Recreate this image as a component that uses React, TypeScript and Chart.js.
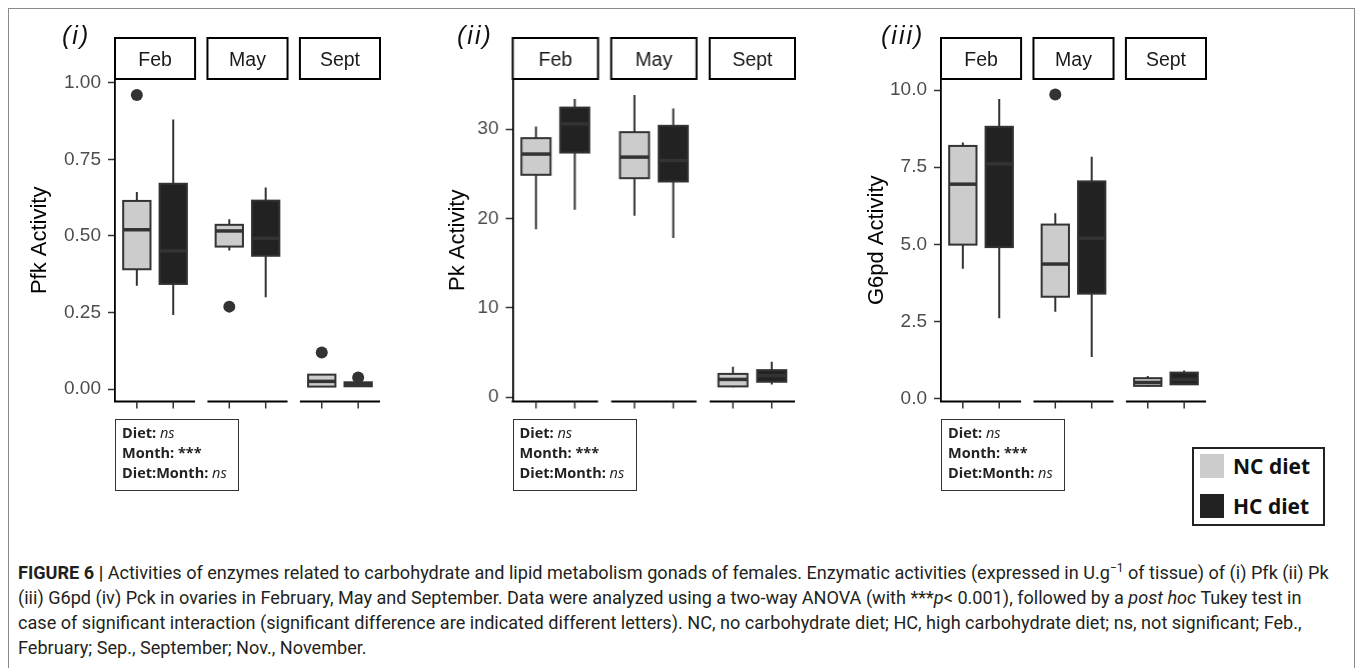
import {
  Chart,
  LinearScale,
  LineElement,
  PointElement,
  ScatterController,
  type ChartConfiguration,
  type Plugin
} from "chart.js";
import { useEffect, useRef } from "react";

Chart.register(LinearScale, LineElement, PointElement, ScatterController);

const months = ["Feb", "May", "Sept"];
const diets = ["NC diet", "HC diet"];
const dietFills = ["#cccccc", "#222222"];

// one row per month: [min, q1, median, q3, max]
const pfkNC = [
  [0.337, 0.391, 0.52, 0.614, 0.643],
  [0.452, 0.465, 0.516, 0.536, 0.554],
  [0.008, 0.008, 0.025, 0.047, 0.047]
];
const pfkHC = [
  [0.242, 0.343, 0.451, 0.67, 0.88],
  [0.3, 0.435, 0.492, 0.615, 0.658],
  [0.009, 0.009, 0.015, 0.022, 0.022]
];
const pfkOutliersNC = [[0.96], [0.269], [0.119]];
const pfkOutliersHC = [[], [], [0.038]];
const pfkTicks = [0, 0.25, 0.5, 0.75, 1];

const pkNC = [
  [18.8, 24.88, 27.2, 28.98, 30.28],
  [20.3, 24.5, 26.86, 29.65, 33.8],
  [1.1, 1.2, 1.98, 2.6, 3.4]
];
const pkHC = [
  [20.97, 27.37, 30.58, 32.4, 33.37],
  [17.8, 24.13, 26.48, 30.36, 32.3],
  [1.42, 1.72, 2.4, 3.02, 3.95]
];
const pkOutliersNC = [[], [], []];
const pkOutliersHC = [[], [], []];
const pkTicks = [0, 10, 20, 30];

const g6pdNC = [
  [4.21, 4.99, 6.95, 8.19, 8.3],
  [2.81, 3.3, 4.36, 5.64, 6.01],
  [0.38, 0.41, 0.52, 0.66, 0.73]
];
const g6pdHC = [
  [2.6, 4.91, 7.61, 8.81, 9.71],
  [1.35, 3.4, 5.2, 7.04, 7.84],
  [0.45, 0.46, 0.62, 0.84, 0.91]
];
const g6pdOutliersNC = [[], [9.86], []];
const g6pdOutliersHC = [[], [], []];
const g6pdTicks = [0, 2.5, 5, 7.5, 10];

// facet layout in x units (ggplot style: two discrete slots per facet)
const FACET = 2.2;
const GAP = 0.34;
const SLOT = [0.6, 1.6];
const HALF_BOX = 0.375;
const facetStart = (m: number) => m * (FACET + GAP);

const FONT = "'Liberation Sans', Arial, sans-serif";

type PanelSpec = {
  tag: string;
  title: string;
  nc: number[][];
  hc: number[][];
  outNC: number[][];
  outHC: number[][];
  ticks: number[];
  digits: number;
  yMin: number;
  yMax: number;
  left: number;
  plotLeft: number;
  plotRight: number;
  titleX: number;
  tagX: number;
};

const panels: PanelSpec[] = [
  {
    tag: "(i)",
    title: "Pfk Activity",
    nc: pfkNC,
    hc: pfkHC,
    outNC: pfkOutliersNC,
    outHC: pfkOutliersHC,
    ticks: pfkTicks,
    digits: 2,
    yMin: -0.041,
    yMax: 1.012,
    left: 20,
    plotLeft: 115,
    plotRight: 380,
    titleX: 40,
    tagX: 62
  },
  {
    tag: "(ii)",
    title: "Pk Activity",
    nc: pkNC,
    hc: pkHC,
    outNC: pkOutliersNC,
    outHC: pkOutliersHC,
    ticks: pkTicks,
    digits: 0,
    yMin: -0.5,
    yMax: 35.6,
    left: 430,
    plotLeft: 512.5,
    plotRight: 794.5,
    titleX: 458,
    tagX: 457
  },
  {
    tag: "(iii)",
    title: "G6pd Activity",
    nc: g6pdNC,
    hc: g6pdHC,
    outNC: g6pdOutliersNC,
    outHC: g6pdOutliersHC,
    ticks: g6pdTicks,
    digits: 1,
    yMin: -0.1,
    yMax: 10.36,
    left: 850,
    plotLeft: 941,
    plotRight: 1206,
    titleX: 877,
    tagX: 881
  }
];

const CANVAS_TOP = 20;
const CANVAS_HEIGHT = 400;
const PAD_TOP = 59;
const PAD_BOTTOM = 18;
const PAD_RIGHT = 10;
const STRIP_HEIGHT = 41;

function facetPlugin(spec: PanelSpec): Plugin<"scatter"> {
  return {
    id: "facetBoxes",
    beforeDatasetsDraw(chart) {
      const { ctx } = chart;
      const x = chart.scales.x;
      const y = chart.scales.y;
      ctx.save();
      [spec.nc, spec.hc].forEach((series, d) => {
        series.forEach(([lo, q1, med, q3, hi], m) => {
          const pos = facetStart(m) + SLOT[d];
          const cx = x.getPixelForValue(pos);
          const left = x.getPixelForValue(pos - HALF_BOX);
          const right = x.getPixelForValue(pos + HALF_BOX);
          const top = y.getPixelForValue(q3);
          const bottom = y.getPixelForValue(q1);

          ctx.strokeStyle = "#333333";
          ctx.lineWidth = 2;
          ctx.beginPath();
          ctx.moveTo(cx, y.getPixelForValue(hi));
          ctx.lineTo(cx, top);
          ctx.moveTo(cx, bottom);
          ctx.lineTo(cx, y.getPixelForValue(lo));
          ctx.stroke();

          ctx.fillStyle = dietFills[d];
          ctx.fillRect(left, top, right - left, bottom - top);
          ctx.strokeRect(left, top, right - left, bottom - top);

          const my = y.getPixelForValue(med);
          ctx.lineWidth = 3.5;
          ctx.beginPath();
          ctx.moveTo(left, my);
          ctx.lineTo(right, my);
          ctx.stroke();
        });
      });
      ctx.restore();
    },
    afterDraw(chart) {
      const { ctx, chartArea } = chart;
      const x = chart.scales.x;
      ctx.save();
      months.forEach((month, m) => {
        const x0 = x.getPixelForValue(facetStart(m));
        const x1 = x.getPixelForValue(facetStart(m) + FACET);

        // strip
        ctx.fillStyle = "#ffffff";
        ctx.fillRect(x0, chartArea.top - STRIP_HEIGHT, x1 - x0, STRIP_HEIGHT);
        ctx.strokeStyle = "#000000";
        ctx.lineWidth = 2;
        ctx.strokeRect(x0, chartArea.top - STRIP_HEIGHT, x1 - x0, STRIP_HEIGHT);
        ctx.fillStyle = "#1a1a1a";
        ctx.font = `19.5px ${FONT}`;
        ctx.textAlign = "center";
        ctx.textBaseline = "middle";
        ctx.fillText(month, (x0 + x1) / 2, chartArea.top - STRIP_HEIGHT / 2 + 2);

        // broken bottom axis
        ctx.strokeStyle = "#000000";
        ctx.lineWidth = 2;
        ctx.beginPath();
        ctx.moveTo(m === 0 ? x0 - 1 : x0, chartArea.bottom);
        ctx.lineTo(x1, chartArea.bottom);
        ctx.stroke();

        ctx.strokeStyle = "#333333";
        ctx.lineWidth = 1.5;
        ctx.beginPath();
        SLOT.forEach((slot) => {
          const tx = x.getPixelForValue(facetStart(m) + slot);
          ctx.moveTo(tx, chartArea.bottom);
          ctx.lineTo(tx, chartArea.bottom + 7);
        });
        ctx.stroke();
      });
      ctx.restore();
    }
  };
}

function outlierPoints(out: number[][], d: number) {
  return out.flatMap((vals, m) => vals.map((v) => ({ x: facetStart(m) + SLOT[d], y: v })));
}

function panelConfig(spec: PanelSpec): ChartConfiguration<"scatter"> {
  const padLeft = spec.titleX - 13.2 - spec.left;
  const axisWidth = spec.plotLeft - spec.left - padLeft;
  return {
    type: "scatter",
    data: {
      datasets: [spec.outNC, spec.outHC].map((out, d) => ({
        label: diets[d],
        data: outlierPoints(out, d),
        pointRadius: 6,
        pointBackgroundColor: "#333333",
        pointBorderWidth: 0
      }))
    },
    options: {
      animation: false,
      responsive: false,
      events: [],
      layout: {
        autoPadding: false,
        padding: { top: PAD_TOP, bottom: PAD_BOTTOM, left: padLeft, right: PAD_RIGHT }
      },
      plugins: {
        legend: { display: false },
        tooltip: { enabled: false }
      },
      scales: {
        x: {
          type: "linear",
          display: false,
          min: 0,
          max: 3 * FACET + 2 * GAP
        },
        y: {
          type: "linear",
          position: "left",
          min: spec.yMin,
          max: spec.yMax,
          afterBuildTicks: (scale) => {
            scale.ticks = spec.ticks.map((value) => ({ value }));
          },
          afterFit: (scale) => {
            scale.width = axisWidth;
          },
          grid: {
            drawOnChartArea: false,
            drawTicks: true,
            tickLength: 7,
            tickWidth: 1.5,
            tickColor: "#333333",
            color: "#333333"
          },
          border: { display: true, color: "#000000", width: 1.8 },
          ticks: {
            color: "#4d4d4d",
            padding: 7,
            font: { family: FONT, size: 19 },
            callback: (value) => Number(value).toFixed(spec.digits)
          },
          title: {
            display: true,
            text: spec.title,
            color: "#000000",
            padding: 0,
            font: { family: FONT, size: 22 }
          }
        }
      }
    },
    plugins: [facetPlugin(spec)]
  };
}

const statLabel: React.CSSProperties = { fontWeight: 700 };

function StatsBox({ left }: { left: number }) {
  return (
    <div
      style={{
        position: "absolute",
        left,
        top: 419,
        width: 124,
        height: 72,
        boxSizing: "border-box",
        border: "1.5px solid #333",
        padding: "3px 0 0 6px",
        fontFamily: "'Open Sans', sans-serif",
        fontSize: 14.5,
        lineHeight: "20px",
        color: "#222",
        whiteSpace: "nowrap"
      }}
    >
      <div>
        <span style={statLabel}>Diet: </span>
        <i>ns</i>
      </div>
      <div>
        <span style={statLabel}>Month: ***</span>
      </div>
      <div>
        <span style={statLabel}>Diet:Month: </span>
        <i>ns</i>
      </div>
    </div>
  );
}

function Panel({ spec }: { spec: PanelSpec }) {
  const canvasRef = useRef<HTMLCanvasElement | null>(null);
  const width = spec.plotRight - spec.left + PAD_RIGHT;

  useEffect(() => {
    const canvas = canvasRef.current;
    if (!canvas) {
      return;
    }
    const chart = new Chart(canvas, panelConfig(spec));
    return () => chart.destroy();
  }, [spec]);

  return (
    <>
      <canvas
        ref={canvasRef}
        width={width}
        height={CANVAS_HEIGHT}
        style={{ position: "absolute", left: spec.left, top: CANVAS_TOP, width, height: CANVAS_HEIGHT }}
      />
      <div
        style={{
          position: "absolute",
          left: spec.tagX,
          top: 22,
          fontFamily: FONT,
          fontStyle: "italic",
          fontSize: 25,
          lineHeight: "26px",
          letterSpacing: 2,
          color: "#111"
        }}
      >
        {spec.tag}
      </div>
      <StatsBox left={spec.plotLeft} />
    </>
  );
}

function Legend() {
  const row = (d: number, top: number) => (
    <div style={{ position: "absolute", left: 6, top, display: "flex", alignItems: "center" }}>
      <div style={{ width: 24, height: 24, background: dietFills[d] }} />
      <span style={{ marginLeft: 9, fontSize: 21, fontWeight: 700, lineHeight: "24px" }}>{diets[d]}</span>
    </div>
  );
  return (
    <div
      style={{
        position: "absolute",
        left: 1192,
        top: 447,
        width: 133,
        height: 79,
        boxSizing: "border-box",
        border: "2px solid #222",
        fontFamily: "'Open Sans', sans-serif",
        color: "#111"
      }}
    >
      {row(0, 5)}
      {row(1, 45)}
    </div>
  );
}

const captionLine: React.CSSProperties = {
  position: "absolute",
  left: 18,
  whiteSpace: "nowrap",
  fontFamily: "Roboto, sans-serif",
  fontSize: 18.1,
  lineHeight: "25px",
  color: "#231f20"
};

function Caption() {
  return (
    <>
      <div style={{ ...captionLine, top: 559.5 }}>
        <b>FIGURE 6 |</b> Activities of enzymes related to carbohydrate and lipid metabolism gonads of females.
        Enzymatic activities (expressed in U.g<sup style={{ fontSize: 12, lineHeight: 0 }}>−1</sup> of tissue) of (i)
        Pfk (ii) Pk
      </div>
      <div style={{ ...captionLine, top: 584.5 }}>
        (iii) G6pd (iv) Pck in ovaries in February, May and September. Data were analyzed using a two-way ANOVA (with
        ***<i>p</i>&lt; 0.001), followed by a <i>post hoc</i> Tukey test in
      </div>
      <div style={{ ...captionLine, top: 609.5 }}>
        case of significant interaction (significant difference are indicated different letters). NC, no carbohydrate
        diet; HC, high carbohydrate diet; ns, not significant; Feb.,
      </div>
      <div style={{ ...captionLine, top: 634.5 }}>February; Sep., September; Nov., November.</div>
    </>
  );
}

export default function App() {
  return (
    <div
      style={{
        position: "absolute",
        left: 0,
        top: 0,
        width: 1357,
        height: 668,
        overflow: "hidden",
        background: "#ffffff"
      }}
    >
      <div
        style={{
          position: "absolute",
          left: 8,
          top: 8,
          width: 1347,
          height: 720,
          boxSizing: "border-box",
          border: "1px solid #8a8a8a"
        }}
      />
      {panels.map((spec) => (
        <Panel key={spec.tag} spec={spec} />
      ))}
      <Legend />
      <Caption />
    </div>
  );
}
